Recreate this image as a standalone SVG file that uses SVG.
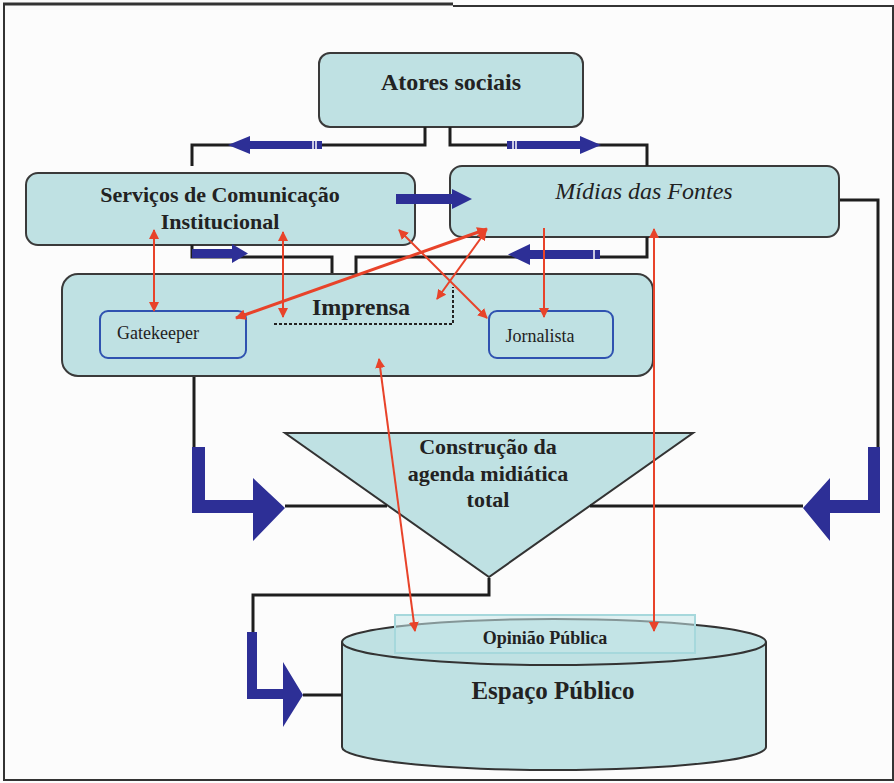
<svg xmlns="http://www.w3.org/2000/svg" width="894" height="783" viewBox="0 0 894 783">
<defs>
<style>
.box{fill:#bfe1e3;stroke:#3a3a3a;stroke-width:2}
.inner{fill:#bfe1e3;stroke:#2f52b0;stroke-width:2}
.wire{fill:none;stroke:#1e1e1e;stroke-width:3}
.blue{fill:#2d2f96}
.red{stroke:#e8432a;stroke-width:2;fill:none}
.redt{stroke:#e8432a;stroke-width:3;fill:none}
text{font-family:"Liberation Serif","Times New Roman",serif;fill:#222}
.b{font-weight:bold}
</style>
<marker id="ah" viewBox="0 0 10 10" refX="9" refY="5" markerWidth="5" markerHeight="5" orient="auto-start-reverse" markerUnits="strokeWidth">
<path d="M0,0 L10,5 L0,10 z" fill="#e8432a"/>
</marker>
<marker id="ah2" viewBox="0 0 10 10" refX="9" refY="5" markerWidth="3.6" markerHeight="3.6" orient="auto-start-reverse" markerUnits="strokeWidth">
<path d="M0,0 L10,5 L0,10 z" fill="#e8432a"/>
</marker>
</defs>
<rect width="894" height="783" fill="#fcfcfc"/>
<g id="frame" fill="none" stroke="#333">
<line x1="3" y1="4" x2="453" y2="4" stroke-width="3"/>
<line x1="453" y1="6" x2="894" y2="6" stroke-width="2"/>
<line x1="4" y1="4" x2="4" y2="780" stroke-width="2"/>
<line x1="3" y1="780" x2="894" y2="780" stroke-width="2"/>
<line x1="893" y1="6" x2="893" y2="780" stroke-width="2"/>
</g>

<g id="atores">
<rect class="box" x="319" y="53" width="264" height="74" rx="11"/>
<text class="b" x="451" y="90" font-size="24" text-anchor="middle">Atores sociais</text>
</g>

<g id="servicos">
<rect class="box" x="26" y="173" width="389" height="72" rx="12"/>
<text class="b" x="220" y="202" font-size="22" text-anchor="middle">Serviços de Comunicação</text>
<text class="b" x="220" y="229" font-size="22" text-anchor="middle">Institucional</text>
</g>

<g id="midias">
<rect class="box" x="450" y="166" width="389" height="71" rx="12"/>
<text x="644" y="199" font-size="24" font-style="italic" text-anchor="middle">Mídias das Fontes</text>
</g>

<g id="imprensa">
<rect class="box" x="62" y="274" width="591" height="102" rx="16" stroke-width="3.5" stroke="#222"/>
<text class="b" x="361" y="315" font-size="24" text-anchor="middle">Imprensa</text>
<path d="M274,324 H453 V287" fill="none" stroke="#222" stroke-width="2" stroke-dasharray="3,2"/>
</g>

<g id="gatekeeper">
<rect class="inner" x="100" y="311" width="146" height="47" rx="8"/>
<text x="158" y="339" font-size="18" fill="#333" text-anchor="middle">Gatekeeper</text>
</g>

<g id="jornalista">
<rect class="inner" x="489" y="311" width="124" height="47" rx="8"/>
<text x="540" y="342" font-size="18" fill="#333" text-anchor="middle">Jornalista</text>
</g>

<g id="construcao">
<path d="M285,433 H693 L489,577 z" fill="#bfe1e3" stroke="#333" stroke-width="2"/>
<text class="b" x="488" y="454" font-size="22" text-anchor="middle">Construção da</text>
<text class="b" x="488" y="481" font-size="22" text-anchor="middle">agenda midiática</text>
<text class="b" x="488" y="507" font-size="22" text-anchor="middle">total</text>
</g>

<g id="espaco">
<path d="M342,642 V747 A212,23 0 0 0 766,747 V642" fill="#bfe1e3" stroke="#333" stroke-width="2"/>
<ellipse cx="554" cy="642" rx="212" ry="23" fill="#bfe1e3" stroke="#333" stroke-width="2"/>
<rect x="395" y="615" width="300" height="38" fill="#c6e7ea" fill-opacity="0.55" stroke="#a6d8dc" stroke-width="2"/>
<text class="b" x="545" y="644" font-size="18" text-anchor="middle">Opinião Pública</text>
<text class="b" x="553" y="699" font-size="25" text-anchor="middle">Espaço Público</text>
</g>

<g id="connectors">
<path class="wire" d="M425,127 V145 H192 V166"/>
<path class="wire" d="M450,127 V145 H647 V166"/>
<path class="wire" d="M192,245 V257 H332 V273"/>
<path class="wire" d="M647,237 V257 H356 V273"/>
<path class="wire" d="M840,200 H878 V447"/>
<path class="wire" d="M194,377 V447"/>
<path class="wire" d="M285,506 H387"/>
<path class="wire" d="M590,506 H803"/>
<path class="wire" d="M489,578 V595 H253 V632"/>
<path class="wire" d="M303,695 H342"/>

<g class="blue">
<path d="M322,141 V149 H250 V154 L228,145 L250,136 V141 z"/>
<path d="M507,141 V149 H580 V154 L601,145 L580,136 V141 z"/>
<path d="M396,194 V204 H452 V209 L472,199 L452,189 V194 z"/>
<path d="M192,249 V258 H232 V263 L248,253.5 L232,244 V249 z"/>
<path d="M600,250 V259 H530 V265 L508,254.5 L530,244 V250 z"/>
<path d="M192,447 H205 V500 H253 V478 L285,508 L253,541 V513 H192 z"/>
<path d="M880,447 H868 V500 H830 V478 L803,508 L830,541 V513 H880 z"/>
<path d="M247,632 H257 V689 H283 V662 L303,695 L283,727 V699 H247 z"/>
</g>
<g stroke="#fcfcfc" stroke-width="1.5">
<line x1="313" y1="140" x2="313" y2="150"/>
<line x1="316" y1="140" x2="316" y2="150"/>
<line x1="513" y1="140" x2="513" y2="150"/>
<line x1="516" y1="140" x2="516" y2="150"/>
<line x1="594" y1="249" x2="594" y2="260"/>
</g>

<line class="red" x1="154" y1="230" x2="154" y2="311" marker-start="url(#ah)" marker-end="url(#ah)"/>
<line class="red" x1="283" y1="232" x2="283" y2="317" marker-start="url(#ah)" marker-end="url(#ah)"/>
<line class="redt" x1="236" y1="318" x2="487" y2="229" marker-start="url(#ah2)" marker-end="url(#ah2)"/>
<line class="red" x1="399" y1="230" x2="487" y2="318" marker-start="url(#ah)" marker-end="url(#ah)"/>
<line class="red" x1="437" y1="299" x2="486" y2="231" marker-start="url(#ah)" marker-end="url(#ah)"/>
<line class="red" x1="544" y1="228" x2="544" y2="317" marker-end="url(#ah)"/>
<line class="red" x1="654" y1="229" x2="654" y2="631" marker-start="url(#ah)" marker-end="url(#ah)"/>
<line class="red" x1="379" y1="359" x2="415" y2="631" marker-start="url(#ah)" marker-end="url(#ah)"/>
</g>
</svg>
